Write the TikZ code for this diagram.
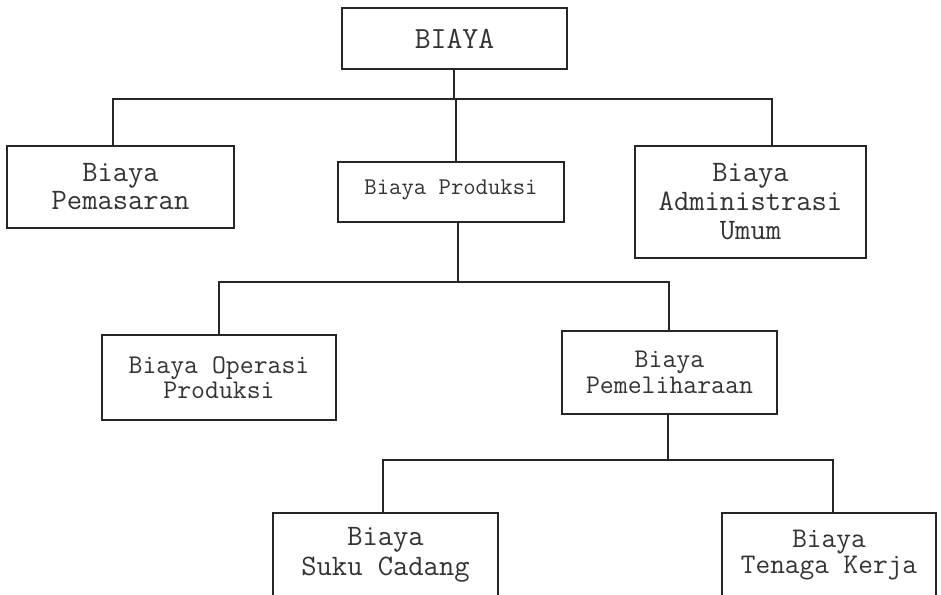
\documentclass[tikz,border=0pt]{standalone}
\begin{document}
\begin{tikzpicture}[x=1pt,y=-1pt,
  box/.style={draw=black!85, line width=1.8pt, rectangle, inner sep=0pt,
    align=center, text=black!80},
  link/.style={draw=black!85, line width=1.8pt},
  fsz/.style 2 args={font=\ttfamily\fontsize{#1}{#2}\selectfont}]
\clip (0,0) rectangle (941,594);
\fill[white] (0,0) rectangle (941,594);

% level 0
\node[box, fsz={30.8}{33}, minimum width=225pt, minimum height=61pt] (biaya) at (454.5,38.5) {BIAYA};

% level 1
\node[box, fsz={29.7}{28}, minimum width=227pt, minimum height=82pt] (pemasaran) at (120.5,187) {Biaya\\Pemasaran};
\node[box, fsz={24}{24}, minimum width=226pt, minimum height=60pt] (produksi) at (451,192) {\raisebox{9pt}{Biaya Produksi}};
\node[box, fsz={29.7}{29}, minimum width=231pt, minimum height=112pt] (admin) at (750.5,202) {Biaya\\Administrasi\\Umum};

% level 2
\node[box, fsz={27}{25}, minimum width=234pt, minimum height=85pt] (operasi) at (219,377.5) {Biaya Operasi\\Produksi};
\node[box, fsz={27}{26}, minimum width=215pt, minimum height=83pt] (pelihara) at (669.5,372.5) {Biaya\\Pemeliharaan};

% level 3
\node[box, fsz={29.7}{30}, minimum width=225pt, minimum height=84pt] (suku) at (385.5,555) {Biaya\\Suku Cadang};
\node[box, fsz={28.5}{26}, minimum width=214pt, minimum height=84pt] (tenaga) at (829,555) {\raisebox{4pt}{\begin{tabular}{@{}c@{}}Biaya\\Tenaga Kerja\end{tabular}}};

% bus lines
\coordinate (b0) at (454,99);
\coordinate (b0l) at (113,99);
\coordinate (b0r) at (772,99);
\coordinate (b0m) at (456,99);
\coordinate (b1) at (458,282);
\coordinate (b1l) at (219,282);
\coordinate (b1r) at (669,282);
\coordinate (b2) at (668,460);
\coordinate (b2l) at (383,460);
\coordinate (b2r) at (833,460);

\draw[link] (biaya.south -| b0) -- (b0);
\draw[link] (b0l |- pemasaran.north) -- (b0l) -- (b0r) -- (b0r |- admin.north);
\draw[link] (b0m) -- (b0m |- produksi.north);

\draw[link] (produksi.south -| b1) -- (b1);
\draw[link] (b1l |- operasi.north) -- (b1l) -- (b1r) -- (b1r |- pelihara.north);

\draw[link] (pelihara.south -| b2) -- (b2);
\draw[link] (b2l |- suku.north) -- (b2l) -- (b2r) -- (b2r |- tenaga.north);
\end{tikzpicture}
\end{document}
